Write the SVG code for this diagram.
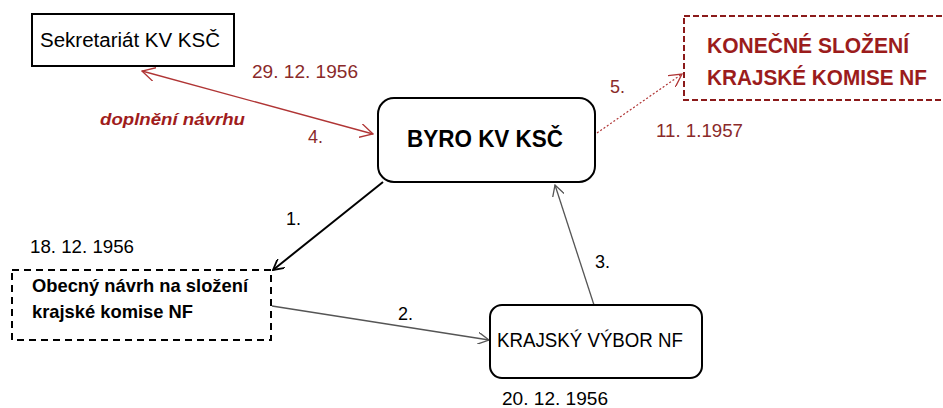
<svg xmlns="http://www.w3.org/2000/svg" width="943" height="408" viewBox="0 0 943 408">
<style>
text{font-family:"Liberation Sans",Arial,sans-serif;}
.lbl{font-size:18px;fill:#000;}
.red{font-size:18px;fill:#8a2a2a;}
.node{fill:#fff;stroke:#000;stroke-width:2;}
.dash{fill:#fff;stroke:#000;stroke-width:2;stroke-dasharray:7,5;}
.rdash{fill:#fff;stroke:#8b1a1a;stroke-width:2;stroke-dasharray:6,3;}
</style>
<defs>
<marker id="ab" viewBox="0 0 12 12" refX="11" refY="6" markerWidth="12" markerHeight="12" markerUnits="userSpaceOnUse" orient="auto-start-reverse"><path d="M0,0 L11,6 L0,12" fill="none" stroke="#000" stroke-width="1.8"/></marker>
<marker id="ag" viewBox="0 0 12 12" refX="11" refY="6" markerWidth="12" markerHeight="12" markerUnits="userSpaceOnUse" orient="auto-start-reverse"><path d="M0,0 L11,6 L0,12" fill="none" stroke="#555" stroke-width="1.3"/></marker>
<marker id="ar" viewBox="0 0 14 14" refX="13" refY="7" markerWidth="14" markerHeight="14" markerUnits="userSpaceOnUse" orient="auto-start-reverse"><path d="M0,0 L13,7 L0,14" fill="none" stroke="#b03535" stroke-width="1.3"/></marker>
</defs>
<rect width="943" height="408" fill="#fff"/>
<g id="connectors">
<line x1="142" y1="71" x2="373" y2="134" stroke="#b03535" stroke-width="1.3" marker-start="url(#ar)" marker-end="url(#ar)"/>
<line x1="597" y1="133" x2="682" y2="74" stroke="#b03535" stroke-width="1.2" stroke-dasharray="2,2" marker-end="url(#ar)"/>
<line x1="383" y1="182" x2="273" y2="270" stroke="#000" stroke-width="2" marker-end="url(#ab)"/>
<line x1="272" y1="306" x2="489" y2="340" stroke="#555" stroke-width="1.3" marker-end="url(#ag)"/>
<line x1="594" y1="305" x2="555" y2="185" stroke="#555" stroke-width="1.3" marker-end="url(#ag)"/>
</g>
<g id="sekretariat">
<rect x="32" y="14" width="202" height="52" fill="#fff" stroke="#000" stroke-width="2"/>
<text x="40" y="47" font-size="20" textLength="180" lengthAdjust="spacingAndGlyphs">Sekretariát KV KSČ</text>
</g>
<g id="byro">
<rect class="node" x="378" y="98" width="217" height="84" rx="16"/>
<text x="407" y="147" font-size="24" font-weight="bold" textLength="156" lengthAdjust="spacingAndGlyphs">BYRO KV KSČ</text>
</g>
<g id="konecne">
<rect class="rdash" x="684" y="16" width="262" height="84"/>
<text x="707" y="53" font-size="22" font-weight="bold" fill="#9b1c1c" textLength="202" lengthAdjust="spacingAndGlyphs">KONEČNÉ SLOŽENÍ</text>
<text x="707" y="85" font-size="22" font-weight="bold" fill="#9b1c1c" textLength="220" lengthAdjust="spacingAndGlyphs">KRAJSKÉ KOMISE NF</text>
</g>
<g id="obecny">
<rect class="dash" x="12" y="270" width="259" height="70"/>
<text x="32" y="292" font-size="19" font-weight="bold" textLength="216" lengthAdjust="spacingAndGlyphs">Obecný návrh na složení</text>
<text x="32" y="318" font-size="19" font-weight="bold" textLength="161" lengthAdjust="spacingAndGlyphs">krajské komise NF</text>
</g>
<g id="krajsky">
<rect class="node" x="490" y="305" width="212" height="73" rx="12"/>
<text x="497" y="347" font-size="20" textLength="186" lengthAdjust="spacingAndGlyphs">KRAJSKÝ VÝBOR NF</text>
</g>
<g id="labels">
<text class="red" x="252" y="78" textLength="106" lengthAdjust="spacingAndGlyphs">29. 12. 1956</text>
<text x="100" y="125" font-size="17" font-weight="bold" font-style="italic" fill="#a01c1c" textLength="145" lengthAdjust="spacingAndGlyphs">doplnění návrhu</text>
<text class="red" x="308" y="143">4.</text>
<text class="red" x="610" y="93">5.</text>
<text class="red" x="656" y="137" textLength="87" lengthAdjust="spacingAndGlyphs">11. 1.1957</text>
<text class="lbl" x="30" y="253" textLength="104" lengthAdjust="spacingAndGlyphs">18. 12. 1956</text>
<text class="lbl" x="286" y="225">1.</text>
<text class="lbl" x="398" y="320">2.</text>
<text class="lbl" x="595" y="268">3.</text>
<text class="lbl" x="502" y="405" textLength="106" lengthAdjust="spacingAndGlyphs">20. 12. 1956</text>
</g>
</svg>
